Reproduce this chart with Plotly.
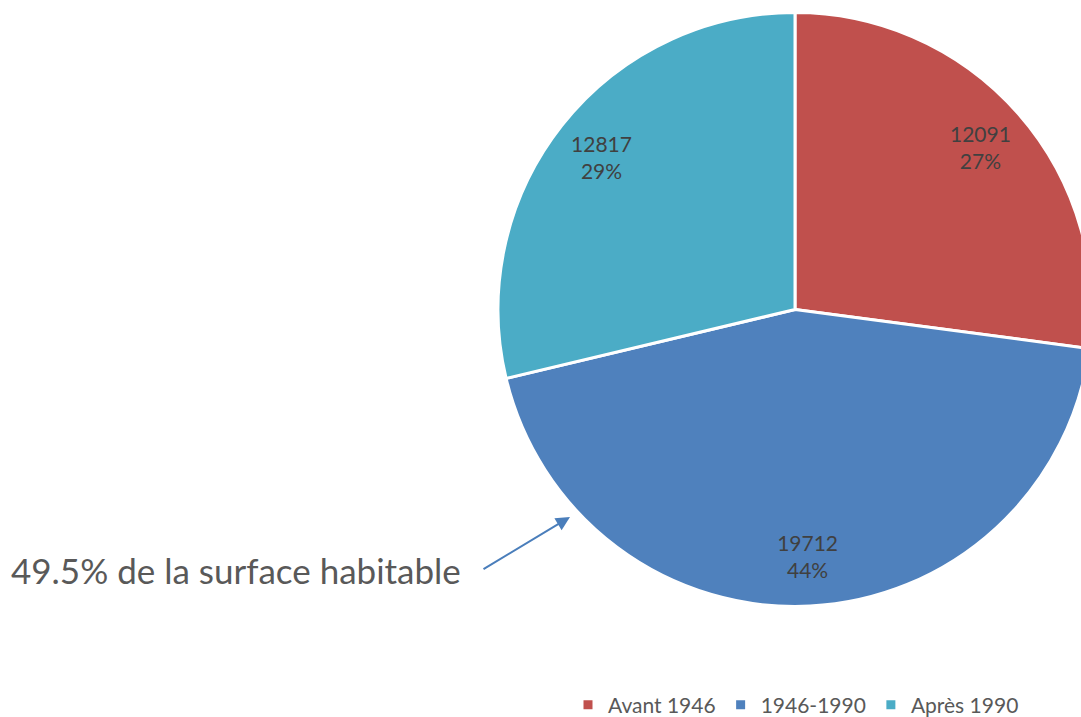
import plotly.graph_objects as go

# Housing stock by construction period
periods = ["Avant 1946", "1946-1990", "Après 1990"]
counts = [12091, 19712, 12817]
colors = ["#C0504D", "#4F81BD", "#4BACC6"]

note_text = "49.5% de la surface habitable"

W, H = 1092, 717
pie_domain = dict(x=[498 / W, 1.0], y=[1 - 606.5 / H, 1 - 12.5 / H])

fig = go.Figure()
# Filled slices
fig.add_trace(go.Pie(
    labels=periods,
    values=counts,
    sort=False,
    direction="clockwise",
    marker=dict(colors=colors, line=dict(color="white", width=3)),
    textposition="none",
    domain=pie_domain,
    hoverinfo="label+value+percent",
))
# Transparent outer ring that carries the value/percent labels near the rim
fig.add_trace(go.Pie(
    labels=periods,
    values=counts,
    sort=False,
    direction="clockwise",
    hole=0.66,
    marker=dict(colors=["rgba(0,0,0,0)"] * 3, line=dict(width=0)),
    texttemplate="%{value:d}<br>%{percent:.0%}",
    textposition="inside",
    insidetextorientation="horizontal",
    textfont=dict(family="Lato", size=21, color="#404040"),
    domain=pie_domain,
    showlegend=False,
    hoverinfo="skip",
))

# Callout pointing to the 1946-1990 slice
fig.add_annotation(
    x=9 / W, y=1 - 570 / H, xref="paper", yref="paper",
    text=note_text, showarrow=False,
    xanchor="left", yanchor="middle",
    font=dict(family="Lato", size=35, color="#595959"),
)
fig.add_annotation(
    x=570 / W, y=1 - 517 / H, xref="paper", yref="paper",
    ax=-88, ay=53, axref="pixel", ayref="pixel",
    text="", showarrow=True,
    arrowhead=2, arrowsize=1.4, arrowwidth=2, arrowcolor="#4A7EBB",
)

fig.update_layout(
    width=W, height=H,
    margin=dict(l=0, r=0, t=0, b=0, autoexpand=False),
    paper_bgcolor="white",
    plot_bgcolor="white",
    showlegend=True,
    legend=dict(
        orientation="h",
        x=1024 / W, xanchor="right",
        y=1 - 705 / H, yanchor="middle",
        font=dict(family="Lato", size=21, color="#595959"),
        itemwidth=30,
        traceorder="normal",
    ),
)

fig.write_html("out.html")
